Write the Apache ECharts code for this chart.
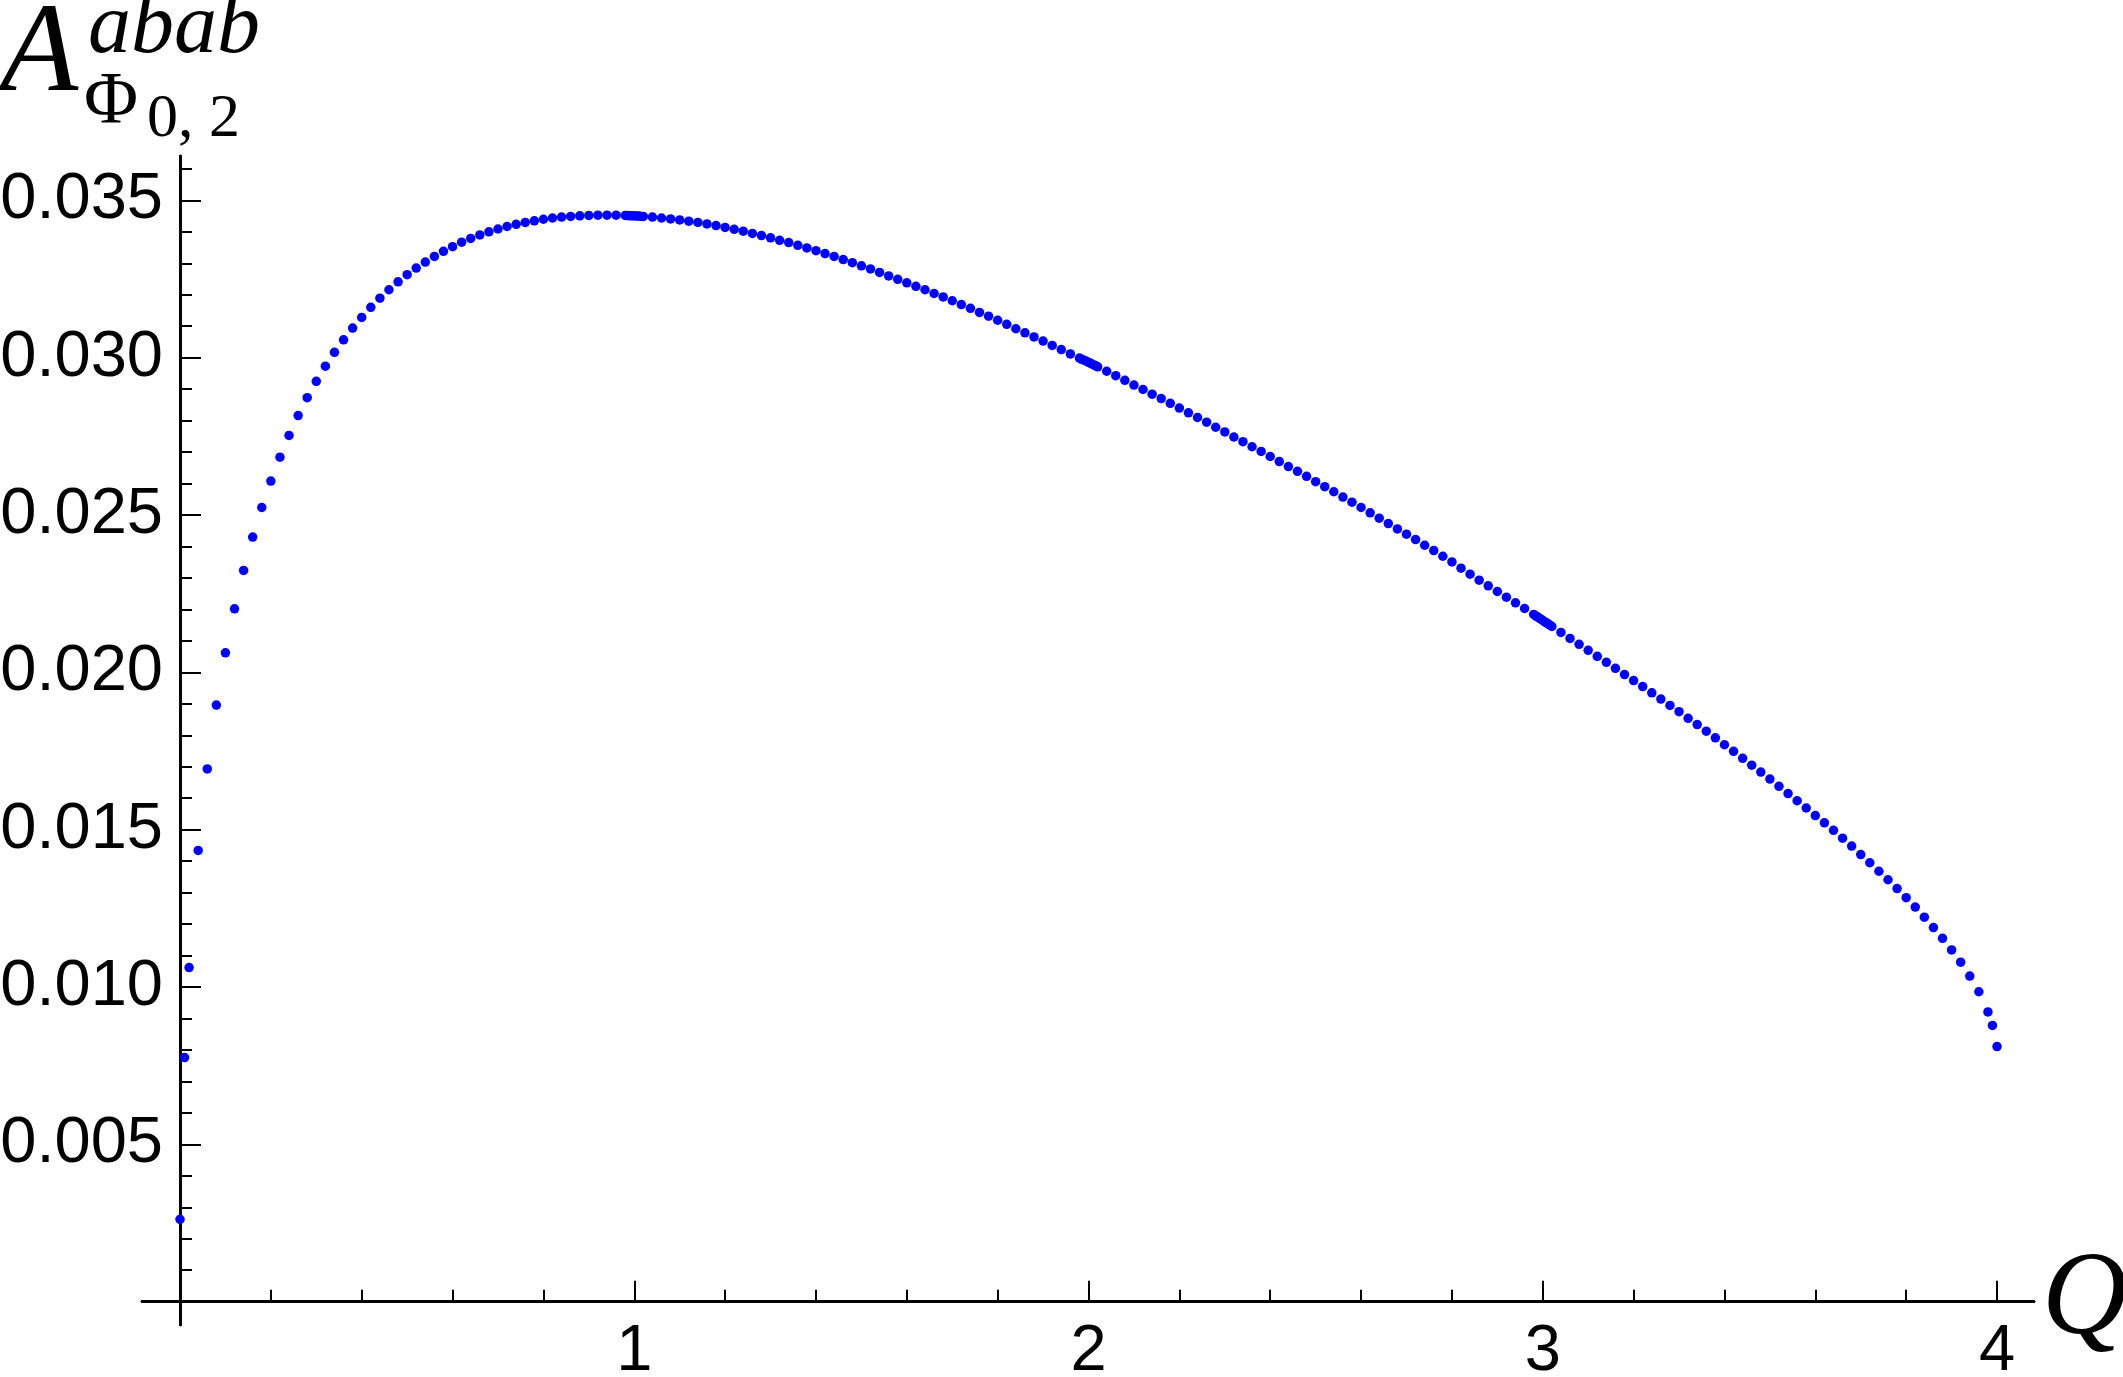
<!DOCTYPE html>
<html>
<head>
<meta charset="utf-8">
<script src="https://cdn.jsdelivr.net/npm/echarts@6/dist/echarts.min.js"></script>
<style>
  html, body { margin: 0; padding: 0; background: #fff; }
  #chart { width: 2123px; height: 1377px; }
</style>
</head>
<body>
<div id="chart"></div>
<script>
const qValues = [
  0, 0.01, 0.02, 0.04, 0.06, 0.08, 0.10, 0.12, 0.14, 0.16,
  0.18, 0.20, 0.22, 0.24, 0.26, 0.28, 0.30, 0.32, 0.34, 0.36,
  0.38, 0.40, 0.42, 0.44, 0.46, 0.48, 0.50, 0.52, 0.54, 0.56,
  0.58, 0.60, 0.62, 0.64, 0.66, 0.68, 0.70, 0.72, 0.74, 0.76,
  0.78, 0.80, 0.82, 0.84, 0.86, 0.88, 0.90, 0.92, 0.94, 0.96,
  0.98, 0.985, 0.99, 0.995, 1.00, 1.005, 1.01, 1.015, 1.02, 1.04,
  1.06, 1.08, 1.10, 1.12, 1.14, 1.16, 1.18, 1.20, 1.22, 1.24,
  1.26, 1.28, 1.30, 1.32, 1.34, 1.36, 1.38, 1.40, 1.42, 1.44,
  1.46, 1.48, 1.50, 1.52, 1.54, 1.56, 1.58, 1.60, 1.62, 1.64,
  1.66, 1.68, 1.70, 1.72, 1.74, 1.76, 1.78, 1.80, 1.82, 1.84,
  1.86, 1.88, 1.90, 1.92, 1.94, 1.96, 1.98, 1.985, 1.99, 1.995,
  2.00, 2.005, 2.01, 2.015, 2.02, 2.04, 2.06, 2.08, 2.10, 2.12,
  2.14, 2.16, 2.18, 2.20, 2.22, 2.24, 2.26, 2.28, 2.30, 2.32,
  2.34, 2.36, 2.38, 2.40, 2.42, 2.44, 2.46, 2.48, 2.50, 2.52,
  2.54, 2.56, 2.58, 2.60, 2.62, 2.64, 2.66, 2.68, 2.70, 2.72,
  2.74, 2.76, 2.78, 2.80, 2.82, 2.84, 2.86, 2.88, 2.90, 2.92,
  2.94, 2.96, 2.98, 2.985, 2.99, 2.995, 3.00, 3.005, 3.01, 3.015,
  3.02, 3.04, 3.06, 3.08, 3.10, 3.12, 3.14, 3.16, 3.18, 3.20,
  3.22, 3.24, 3.26, 3.28, 3.30, 3.32, 3.34, 3.36, 3.38, 3.40,
  3.42, 3.44, 3.46, 3.48, 3.50, 3.52, 3.54, 3.56, 3.58, 3.60,
  3.62, 3.64, 3.66, 3.68, 3.70, 3.72, 3.74, 3.76, 3.78, 3.80,
  3.82, 3.84, 3.86, 3.88, 3.90, 3.92, 3.94, 3.96, 3.98, 3.99,
  4.00
]
// A^{abab}_{Phi_{0,2}} at each Q
const aValues = [
  0.00262, 0.00776, 0.01062, 0.01434, 0.01693, 0.01896, 0.02062, 0.02202, 0.02324, 0.02430,
  0.02524, 0.02608, 0.02684, 0.02753, 0.02816, 0.02873, 0.02925, 0.02973, 0.03017, 0.03057,
  0.03094, 0.03128, 0.03160, 0.03189, 0.03216, 0.03241, 0.03264, 0.03285, 0.03304, 0.03322,
  0.03338, 0.03353, 0.03367, 0.03379, 0.03390, 0.03400, 0.03409, 0.03417, 0.03424, 0.03430,
  0.03435, 0.03440, 0.03444, 0.03447, 0.03449, 0.03451, 0.03452, 0.03453, 0.03453, 0.03453,
  0.03452, 0.03452, 0.03451, 0.03451, 0.03451, 0.03450, 0.03450, 0.03449, 0.03449, 0.03447,
  0.03444, 0.03441, 0.03438, 0.03434, 0.03430, 0.03425, 0.03420, 0.03414, 0.03408, 0.03402,
  0.03395, 0.03388, 0.03381, 0.03373, 0.03366, 0.03357, 0.03349, 0.03340, 0.03331, 0.03322,
  0.03312, 0.03302, 0.03292, 0.03282, 0.03271, 0.03260, 0.03249, 0.03238, 0.03227, 0.03216,
  0.03204, 0.03193, 0.03181, 0.03169, 0.03157, 0.03144, 0.03132, 0.03119, 0.03106, 0.03092,
  0.03079, 0.03066, 0.03053, 0.03039, 0.03026, 0.03012, 0.02999, 0.02995, 0.02992, 0.02989,
  0.02985, 0.02982, 0.02978, 0.02975, 0.02971, 0.02957, 0.02943, 0.02928, 0.02913, 0.02899,
  0.02884, 0.02870, 0.02855, 0.02840, 0.02825, 0.02810, 0.02795, 0.02779, 0.02764, 0.02748,
  0.02733, 0.02717, 0.02702, 0.02686, 0.02670, 0.02654, 0.02639, 0.02623, 0.02606, 0.02590,
  0.02574, 0.02557, 0.02541, 0.02524, 0.02507, 0.02490, 0.02473, 0.02456, 0.02439, 0.02422,
  0.02404, 0.02387, 0.02369, 0.02351, 0.02331, 0.02312, 0.02293, 0.02275, 0.02257, 0.02239,
  0.02221, 0.02203, 0.02184, 0.02179, 0.02175, 0.02170, 0.02165, 0.02160, 0.02156, 0.02151,
  0.02146, 0.02127, 0.02108, 0.02089, 0.02070, 0.02051, 0.02032, 0.02013, 0.01993, 0.01974,
  0.01955, 0.01935, 0.01915, 0.01895, 0.01875, 0.01854, 0.01834, 0.01813, 0.01792, 0.01770,
  0.01749, 0.01727, 0.01705, 0.01683, 0.01661, 0.01638, 0.01615, 0.01592, 0.01569, 0.01545,
  0.01522, 0.01498, 0.01473, 0.01448, 0.01421, 0.01395, 0.01368, 0.01341, 0.01313, 0.01284,
  0.01254, 0.01222, 0.01189, 0.01155, 0.01118, 0.01079, 0.01035, 0.00985, 0.00921, 0.00878,
  0.00811
]

// tick positions
const xMajorTicks = [1, 2, 3, 4]
const xMinorTicks = [0.2, 0.4, 0.6, 0.8, 1.2, 1.4, 1.6, 1.8, 2.2, 2.4, 2.6, 2.8, 3.2, 3.4, 3.6, 3.8]
const yMajorTicks = [0.005, 0.010, 0.015, 0.020, 0.025, 0.030, 0.035]
const yMinorTicks = [
  0.001, 0.002, 0.003, 0.004, 0.006, 0.007, 0.008, 0.009,
  0.011, 0.012, 0.013, 0.014, 0.016, 0.017, 0.018, 0.019,
  0.021, 0.022, 0.023, 0.024, 0.026, 0.027, 0.028, 0.029,
  0.031, 0.032, 0.033, 0.034, 0.036
]

const points = qValues.map((q, i) => [q, aValues[i]])

const black = '#000'
const labelFont = {
  color: black,
  fontFamily: 'Liberation Sans, Arial, sans-serif',
  fontSize: 65
}

// the axes run a bit past 0 on both sides, so the visible lines are
// pulled onto the zero lines with a negative offset
const X_MIN = -0.0837
const X_MAX = 4.0814
const Y_MIN = -0.00074
const Y_MAX = 0.03641
const X_OFFSET = -23.3
const Y_OFFSET = -38

function xAxisBase(extra) {
  return Object.assign({
    type: 'value',
    min: X_MIN,
    max: X_MAX,
    position: 'bottom',
    offset: X_OFFSET,
    axisLine: { show: true, onZero: false, lineStyle: { color: black, width: 2.5 } },
    axisTick: { show: false },
    axisLabel: { show: false },
    splitLine: { show: false }
  }, extra)
}

function yAxisBase(extra) {
  return Object.assign({
    type: 'value',
    min: Y_MIN,
    max: Y_MAX,
    position: 'left',
    offset: Y_OFFSET,
    axisLine: { show: true, onZero: false, lineStyle: { color: black, width: 2.5 } },
    axisTick: { show: false },
    axisLabel: { show: false },
    splitLine: { show: false }
  }, extra)
}

let myChart = echarts.init(document.getElementById('chart'))
myChart.setOption({
  animation: false,
  backgroundColor: '#fff',
  grid: {
    left: 142,
    top: 156,
    width: 1892,
    height: 1169,
    containLabel: false,
    outerBoundsMode: 'none' // keep the grid where it is, labels may touch the edge
  },
  xAxis: [
    // main axis, carries the data and the name
    xAxisBase({
      name: 'Q',
      nameLocation: 'end',
      nameGap: 8,
      nameTextStyle: {
        color: black,
        fontFamily: 'Liberation Serif, serif',
        fontStyle: 'italic',
        fontSize: 118,
        verticalAlign: 'middle',
        padding: [0, 0, 8, 0]
      }
    }),
    // major ticks and labels
    xAxisBase({
      axisTick: { show: true, inside: true, length: 21, customValues: xMajorTicks, lineStyle: { color: black, width: 2 } },
      axisLabel: Object.assign({ show: true, margin: 18, customValues: xMajorTicks, formatter: v => String(v) }, labelFont)
    }),
    // minor ticks
    xAxisBase({
      axisTick: { show: true, inside: true, length: 12, customValues: xMinorTicks, lineStyle: { color: black, width: 2 } }
    })
  ],
  yAxis: [
    yAxisBase({}),
    yAxisBase({
      axisTick: { show: true, inside: true, length: 21, customValues: yMajorTicks, lineStyle: { color: black, width: 2 } },
      axisLabel: Object.assign({ show: true, margin: 17, customValues: yMajorTicks, formatter: v => v.toFixed(3) }, labelFont)
    }),
    yAxisBase({
      axisTick: { show: true, inside: true, length: 12, customValues: yMinorTicks, lineStyle: { color: black, width: 2 } }
    })
  ],
  // y axis title A^{abab}_{Phi_{0,2}}
  graphic: [
    { type: 'text', x: 0, y: 56, style: { text: 'A', fontFamily: 'Liberation Serif', fontStyle: 'italic', fontSize: 128, fill: black, verticalAlign: 'middle' } },
    { type: 'text', x: 88, y: 29, style: { text: 'abab', fontFamily: 'Liberation Serif', fontStyle: 'italic', fontSize: 86, fill: black, verticalAlign: 'middle' } },
    { type: 'text', x: 84, y: 104, style: { text: 'Φ', fontFamily: 'Liberation Serif', fontSize: 74, fill: black, verticalAlign: 'middle' } },
    { type: 'text', x: 147, y: 120, style: { text: '0, 2', fontFamily: 'Liberation Serif', fontSize: 62, fill: black, verticalAlign: 'middle' } }
  ],
  series: [
    {
      type: 'scatter',
      xAxisIndex: 0,
      yAxisIndex: 0,
      data: points,
      symbol: 'circle',
      symbolSize: 9.5,
      itemStyle: { color: '#0000ff', opacity: 1 },
      clip: false,
      z: 5
    }
  ]
})
</script>
</body>
</html>
